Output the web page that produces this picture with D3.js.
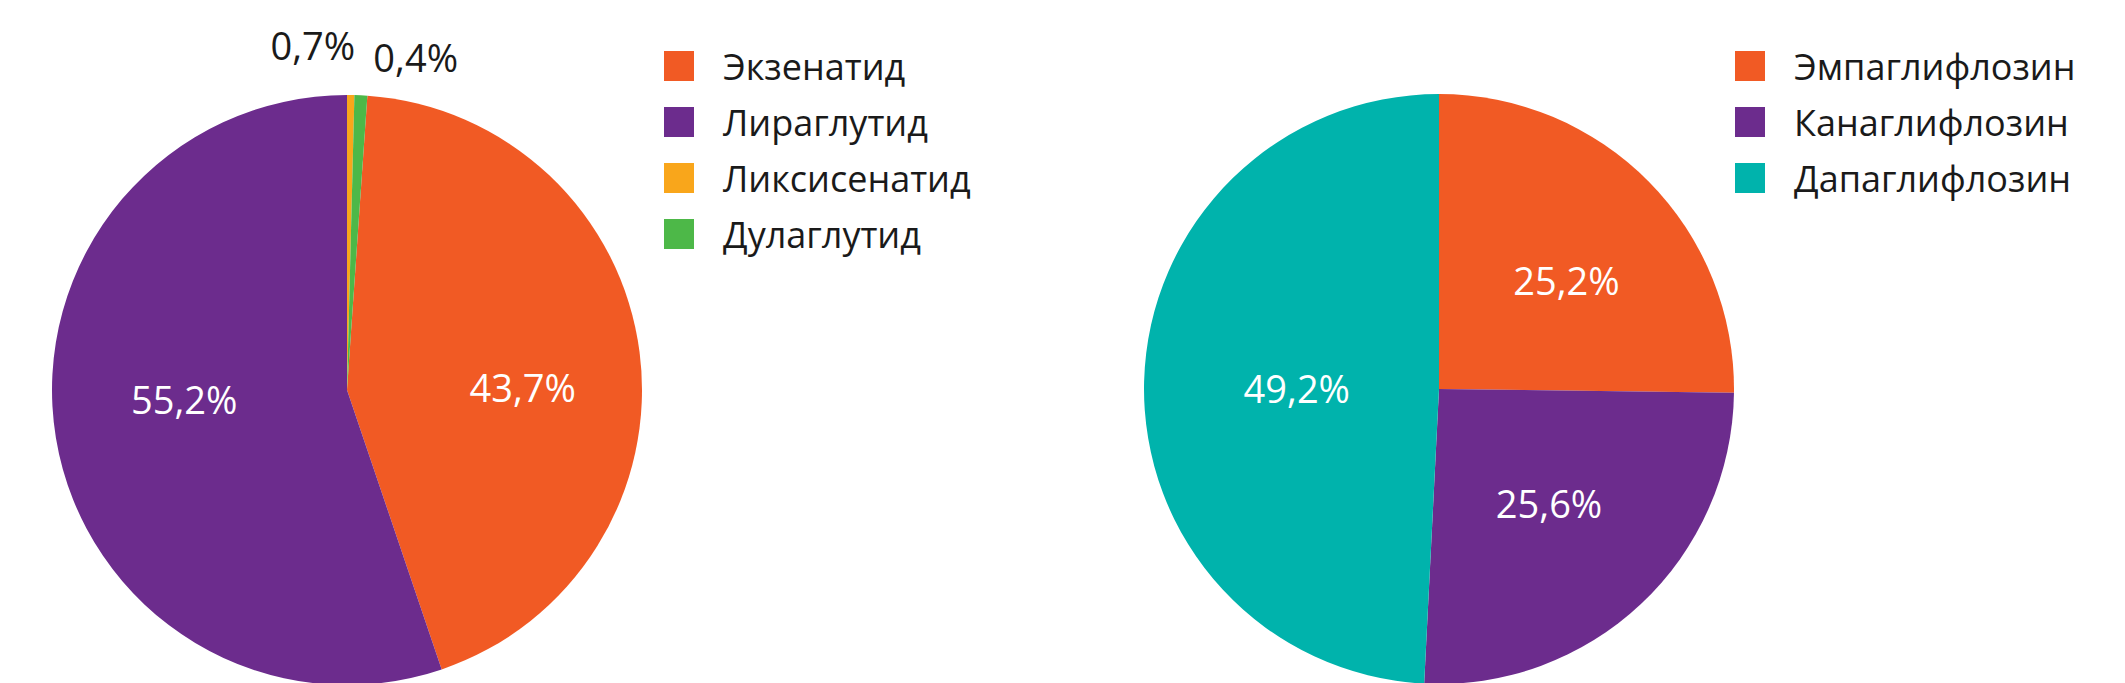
<!DOCTYPE html>
<html>
<head>
<meta charset="utf-8">
<script src="https://cdn.jsdelivr.net/npm/d3@7"></script>
<style>
  html, body { margin: 0; padding: 0; background: #fff; }
  svg { display: block; }
  text { font-family: "Open Sans", "Noto Sans", sans-serif; }
</style>
</head>
<body>
<svg id="chart" width="2125" height="683"></svg>
<script>
// ---- Data ----
const glpCategories = ["Экзенатид", "Лираглутид", "Ликсисенатид", "Дулаглутид"];
const glpValues = [43.7, 55.2, 0.4, 0.7];
const glpLabels = ["43,7%", "55,2%", "0,4%", "0,7%"];

const sgltCategories = ["Эмпаглифлозин", "Канаглифлозин", "Дапаглифлозин"];
const sgltValues = [25.2, 25.6, 49.2];
const sgltLabels = ["25,2%", "25,6%", "49,2%"];

// ---- Styles / layout ----
const glpColors = ["#F15A24", "#6C2C8D", "#F9A61B", "#4DB848"];
const sgltColors = ["#F15A24", "#6C2C8D", "#00B3AC"];
// label nudges (inside labels: from centroid; tiny slices: outside, from edge point)
const glpInsideNudge = [[6, 21], [6, -17], null, null];
const glpOutsideOffsets = [null, null, [65, -23], [-48, -35]];
const sgltInsideNudge = [[12, 7], [-1, -3], [20, 5]];

const svg = d3.select("#chart");
const R = 295;

function drawPie(cfg) {
  const g = svg.append("g").attr("transform", `translate(${cfg.cx},${cfg.cy})`);
  const pie = d3.pie().sort(null).value(d => d)
    .startAngle(cfg.start).endAngle(cfg.start + 2 * Math.PI);
  const arcs = pie(cfg.values);
  const arc = d3.arc().innerRadius(0).outerRadius(R);
  const labelArc = d3.arc().innerRadius(R * cfg.labelR).outerRadius(R * cfg.labelR);
  const edgeArc = d3.arc().innerRadius(R).outerRadius(R);

  g.selectAll("path.slice").data(arcs).join("path")
    .attr("class", "slice")
    .attr("d", arc)
    .attr("fill", (d, i) => cfg.colors[i]);

  arcs.forEach((d, i) => {
    const off = cfg.outside && cfg.outside[i];
    if (off) {
      const [x, y] = edgeArc.centroid(d);
      g.append("text")
        .attr("x", x + off[0]).attr("y", y + off[1])
        .attr("text-anchor", "middle")
        .attr("font-size", 38)
        .attr("fill", "#1a1a1a")
        .text(cfg.labels[i]);
    } else {
      const [x, y] = labelArc.centroid(d);
      const n = (cfg.nudge && cfg.nudge[i]) || [0, 0];
      g.append("text")
        .attr("x", x + n[0]).attr("y", y + n[1])
        .attr("dy", "0.35em")
        .attr("text-anchor", "middle")
        .attr("font-size", 38)
        .attr("fill", "#fff")
        .text(cfg.labels[i]);
    }
  });

  // legend
  const lg = svg.append("g").attr("transform", `translate(${cfg.legendX},51)`);
  const rows = lg.selectAll("g").data(cfg.categories).join("g")
    .attr("transform", (d, i) => `translate(0,${i * 56})`);
  rows.append("rect").attr("width", 30).attr("height", 30)
    .attr("fill", (d, i) => cfg.colors[i]);
  rows.append("text").attr("x", 59).attr("y", 29)
    .attr("font-size", 36).attr("fill", "#1a1a1a")
    .text(d => d);
}

const glpSmall = (glpValues[2] + glpValues[3]) / d3.sum(glpValues) * 2 * Math.PI;
drawPie({
  cx: 347, cy: 390, start: glpSmall,
  values: glpValues, labels: glpLabels, categories: glpCategories,
  colors: glpColors, outside: glpOutsideOffsets, nudge: glpInsideNudge, labelR: 0.58,
  legendX: 664
});

drawPie({
  cx: 1439, cy: 389, start: 0,
  values: sgltValues, labels: sgltLabels, categories: sgltCategories,
  colors: sgltColors, outside: null, nudge: sgltInsideNudge, labelR: 0.55,
  legendX: 1735
});
</script>
</body>
</html>
